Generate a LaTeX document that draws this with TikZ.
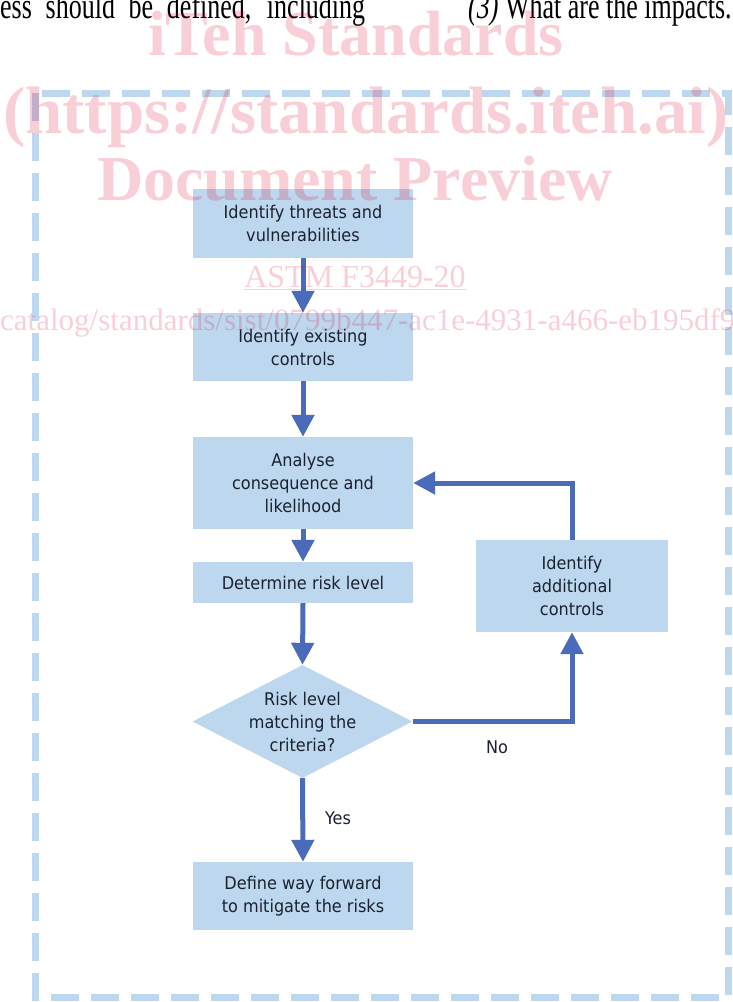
\documentclass[tikz,border=0pt]{standalone}
\usepackage{fontspec}
\setmainfont{DejaVu Sans}
\newfontfamily\flowfont[FakeStretch=0.92]{DejaVu Sans}
\newfontfamily\seriffont{Liberation Serif}
\usetikzlibrary{arrows.meta,shapes.geometric}
\definecolor{boxblue}{HTML}{BDD7EE}
\definecolor{arrowblue}{HTML}{4A6BBA}
\definecolor{txt}{HTML}{1B2130}
\definecolor{wm}{HTML}{E0002A}
\begin{document}
\begin{tikzpicture}[x=1pt,y=-1pt,
  box/.style={fill=boxblue, draw=none, text=txt, font=\flowfont\fontsize{17.5}{23}\selectfont, align=center, inner sep=0pt, minimum width=220pt},
  lbl/.style={text=txt, font=\flowfont\fontsize{17.5}{23}\selectfont, inner sep=0pt},
  flow/.style={draw=arrowblue, line width=5pt, -{Triangle[width=22pt,length=22pt]}},
  frame/.style={draw=boxblue, line width=7pt, dash pattern=on 28pt off 12pt},
  wmbig/.style={text=wm, opacity=0.19, inner sep=0pt, font=\seriffont\bfseries\fontsize{64}{64}\selectfont},
  wmsmall/.style={text=wm, opacity=0.19, inner sep=0pt, font=\seriffont\fontsize{32}{32}\selectfont},
  body/.style={text=black, inner sep=0pt, font=\seriffont\fontsize{26}{26}\selectfont}]
\useasboundingbox (0,0) rectangle (732,1002);
\clip (0,0) rectangle (732,1002);

% page text above the figure
\node[body, anchor=base west] (t1) at (0,18) {\scalebox{1}[1.4]{\makebox[365pt][s]{ess should be defined, including}}};
\node[body, anchor=base west] (t2) at (468,18) {\scalebox{1}[1.4]{\textit{(3)} What are the impacts.}};

% dashed frame
\draw[frame] (35,93) rectangle (728.5,997);

% boxes
\node[box, minimum height=69pt] (b1) at (303,223.5) {Identify threats and\\vulnerabilities};
\node[box, minimum height=68pt] (b2) at (303,347) {Identify existing\\controls};
\node[box, minimum height=92pt] (b3) at (303,483) {Analyse\\consequence and\\likelihood};
\node[box, minimum height=41pt] (b4) at (303,582.5) {Determine risk level};
\node[diamond, fill=boxblue, inner sep=0pt, minimum width=220pt, minimum height=113pt] (dia) at (302.5,721.5) {};
\node[lbl, align=center] (diat) at (dia.center) {Risk level\\matching the\\criteria?};
\node[box, minimum height=68pt] (b5) at (303,896) {Define way forward\\to mitigate the risks};
\node[box, minimum width=192pt, minimum height=92pt] (rb) at (572,586) {Identify\\additional\\controls};

% connectors
\draw[flow] (b1.south) -- (b2.north);
\draw[flow] (b2.south) -- (b3.north);
\draw[flow] (b3.south) -- (b4.north);
\draw[flow] (b4.south) -- (dia.north);
\draw[flow] (dia.south) -- (b5.north);
\draw[flow] (dia.east) -| (rb.south);
\draw[flow] (rb.north) |- (b3.east);

\node[lbl] (no) at (497,747) {No};
\node[lbl] (yes) at (338,818) {Yes};

% watermark
\node[wmbig, anchor=base] (w1) at (356,55) {iTeh Standards};
\node[wmbig, anchor=base, font=\seriffont\bfseries\fontsize{67}{67}\selectfont] (w2) at (366,133) {(https://standards.iteh.ai)};
\node[wmbig, anchor=base] (w3) at (355,200) {Document Preview};
\node[wmsmall, anchor=base] (w4) at (355,287) {\underline{ASTM F3449-20}};
\node[wmsmall, anchor=base west, font=\seriffont\fontsize{31}{31}\selectfont] (w5) at (0,330) {catalog/standards/sist/0799b447-ac1e-4931-a466-eb195df9};
\end{tikzpicture}
\end{document}
